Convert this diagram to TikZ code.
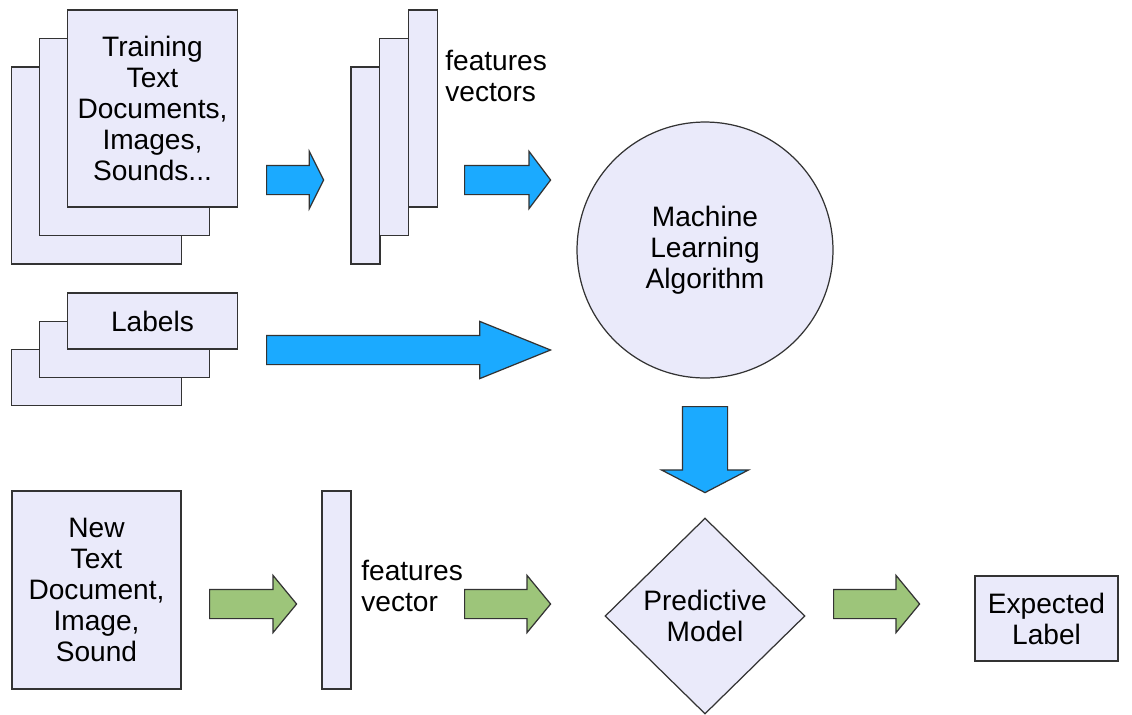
\documentclass[tikz,border=0pt]{standalone}
\usepackage{fontspec}
\setmainfont{Liberation Sans}
\usetikzlibrary{shapes.geometric,shapes.arrows}
\definecolor{paper}{RGB}{234,234,250}
\definecolor{flowblue}{RGB}{27,170,255}
\definecolor{flowgreen}{RGB}{157,197,122}
\begin{document}
\begin{tikzpicture}[x=0.02cm,y=-0.02cm,
every node/.style={font=\fontsize{16}{17.7}\selectfont},
page/.style={draw=black!80,fill=paper,line width=0.7pt,inner sep=0pt,align=center},
docpage/.style={page,minimum width=3.4cm,minimum height=3.94cm},
vecpage/.style={page,minimum width=0.58cm,minimum height=3.94cm},
tagpage/.style={page,minimum width=3.4cm,minimum height=1.12cm},
note/.style={anchor=west,inner sep=0pt,align=left},
fat/.style={single arrow,anchor=tail,draw=black!80,line width=0.7pt,inner xsep=0pt,inner ysep=0.28cm,
  single arrow head extend=0.28cm,single arrow head indent=0pt},
bluearrow/.style={fat,fill=flowblue},
greenarrow/.style={fat,fill=flowgreen}]
	\useasboundingbox (0,0) rectangle (1132,714);
	% training pages
	\node[docpage] (trainA) at (96.5,165.5) {};
	\node[docpage] (trainB) at (124.5,137) {};
	\node[docpage] (trainC) at (152.5,108.5) {Training\\Text\\Documents,\\Images,\\Sounds...};
	% features vectors
	\node[vecpage] (featA) at (365.5,165.5) {};
	\node[vecpage] (featB) at (394,137) {};
	\node[vecpage] (featC) at (423,108.5) {};
	\node[note] (featText) at (445,76) {features\\vectors};
	% labels
	\node[tagpage] (labA) at (96.5,377.5) {};
	\node[tagpage] (labB) at (124.5,349.5) {};
	\node[tagpage] (labC) at (152.5,321) {Labels};
	% learning
	\node[page,circle,minimum size=5.12cm] (algo) at (705,250) {Machine\\Learning\\Algorithm};
	\node[page,diamond,minimum width=4cm,minimum height=3.92cm] (model) at (705,616) {Predictive\\Model};
	% new sample
	\node[page,minimum width=3.38cm,minimum height=3.96cm] (newDoc) at (96.5,590) {New\\Text\\Document,\\Image,\\Sound};
	\node[page,minimum width=0.58cm,minimum height=3.96cm] (newVec) at (336.5,590) {};
	\node[note] (newText) at (361,586) {features\\vector};
	\node[page,minimum width=2.86cm,minimum height=1.7cm] (result) at (1046.5,618.5) {Expected\\Label};
	% block arrows
	\node[bluearrow,minimum height=1.14cm,single arrow tip angle=127] (arrA) at (266,180) {};
	\node[bluearrow,minimum height=1.72cm,single arrow tip angle=106] (arrB) at (464,180) {};
	\node[bluearrow,minimum height=5.68cm,single arrow tip angle=44] (arrC) at (266,350) {};
	\node[bluearrow,minimum height=1.72cm,single arrow tip angle=125,inner ysep=0.44cm,
		single arrow head extend=0.42cm,rotate=-90] (arrD) at (705,406) {};
	\node[greenarrow,minimum height=1.74cm,single arrow tip angle=101] (arrE) at (209,604) {};
	\node[greenarrow,minimum height=1.72cm,single arrow tip angle=101] (arrF) at (464,604) {};
	\node[greenarrow,minimum height=1.72cm,single arrow tip angle=101] (arrG) at (833,604) {};
\end{tikzpicture}
\end{document}
